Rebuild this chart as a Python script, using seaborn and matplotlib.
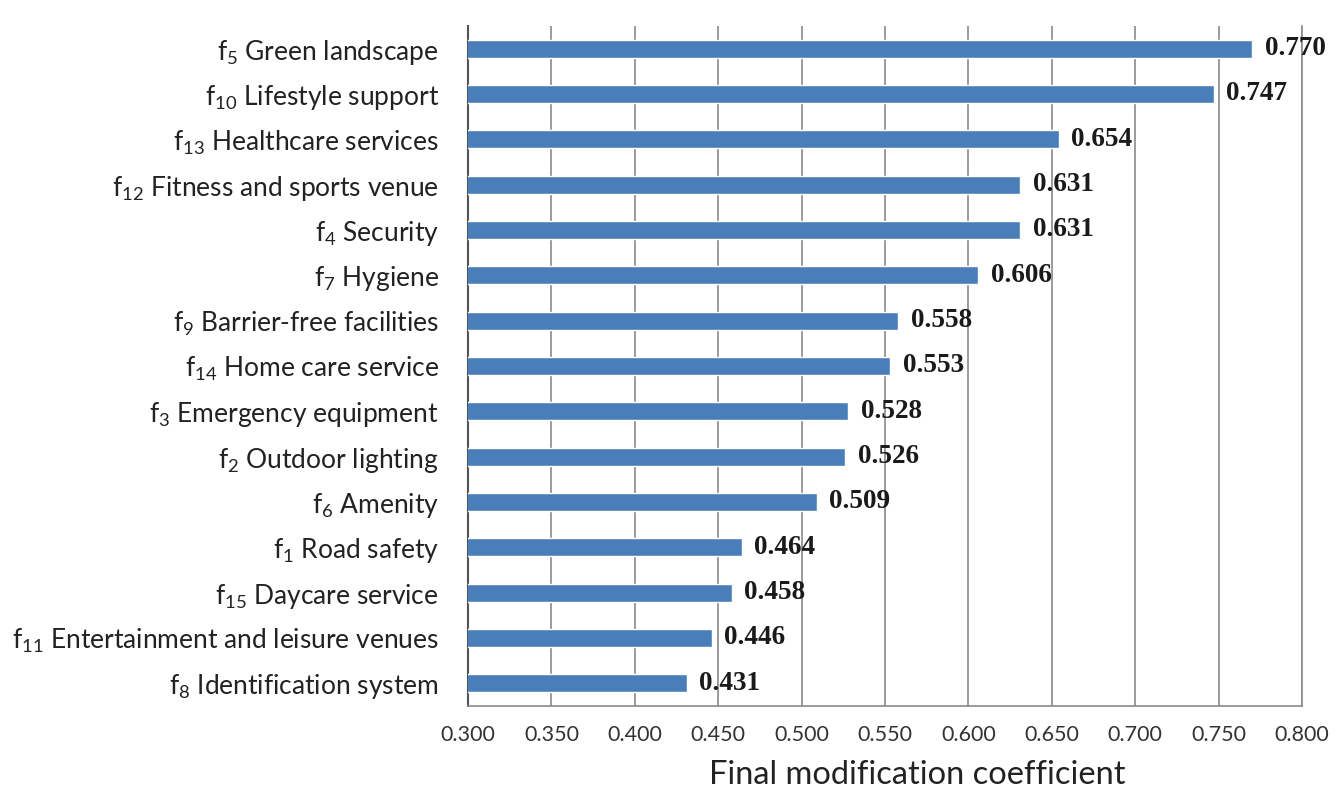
import matplotlib
matplotlib.use("Agg")
import matplotlib.pyplot as plt
import seaborn as sns
import pandas as pd

# Indicator codes, names and their final modification coefficients (top to bottom)
codes = ["5", "10", "13", "12", "4", "7", "9", "14", "3", "2", "6", "1", "15", "11", "8"]
names = ["Green landscape", "Lifestyle support", "Healthcare services",
         "Fitness and sports venue", "Security", "Hygiene", "Barrier-free facilities",
         "Home care service", "Emergency equipment", "Outdoor lighting", "Amenity",
         "Road safety", "Daycare service", "Entertainment and leisure venues",
         "Identification system"]
values = [0.770, 0.747, 0.654, 0.631, 0.631, 0.606, 0.558, 0.553, 0.528, 0.526,
          0.509, 0.464, 0.458, 0.446, 0.431]
x_ticks = [0.300, 0.350, 0.400, 0.450, 0.500, 0.550, 0.600, 0.650, 0.700, 0.750, 0.800]

sns.set_theme(style="white")
plt.rcParams["font.family"] = ["Lato", "DejaVu Sans"]
plt.rcParams["mathtext.default"] = "regular"

labels = [r"$\mathregular{f_{%s}}$ %s" % (c, n) for c, n in zip(codes, names)]
df = pd.DataFrame({"label": labels, "value": values})

fig = plt.figure(figsize=(13.41, 7.92), dpi=100)
ax = fig.add_axes([0.349, 0.1086, 0.622, 0.8586])

sns.barplot(data=df, x="value", y="label", orient="h", color="#4a7ebb",
            saturation=1, width=0.4, ax=ax, zorder=3)

ax.set_xlim(0.3, 0.8)
ax.set_ylim(len(values) - 0.5, -0.5)
ax.set_xticks(x_ticks)
ax.set_xticklabels([f"{t:.3f}" for t in x_ticks], fontsize=15.5, color="#333333")
ax.tick_params(axis="x", length=0, pad=14)
ax.tick_params(axis="y", length=0, pad=21, labelsize=19, labelcolor="#222222")

ax.xaxis.grid(True, color="#8a8a8a", linewidth=1.2, zorder=0)
ax.yaxis.grid(False)
ax.set_axisbelow(True)

ax.spines["top"].set_visible(False)
ax.spines["left"].set_color("#555555")
ax.spines["left"].set_linewidth(1.5)
ax.spines["bottom"].set_color("#8a8a8a")
ax.spines["bottom"].set_linewidth(1.2)
ax.spines["right"].set_color("#8a8a8a")
ax.spines["right"].set_linewidth(1.2)

ax.set_ylabel("")
ax.set_xlabel("Final modification coefficient", fontsize=23.5, color="#222222")
ax.xaxis.set_label_coords(0.538, -0.08)

for i, v in enumerate(values):
    ax.annotate(f"{v:.3f}", xy=(v, i), xytext=(9, 0), textcoords="offset points",
                ha="left", va="center", fontsize=19.5, fontweight="bold",
                family="Liberation Serif", color="#1a1a1a", zorder=5)

fig.savefig("out.png", dpi=100)
